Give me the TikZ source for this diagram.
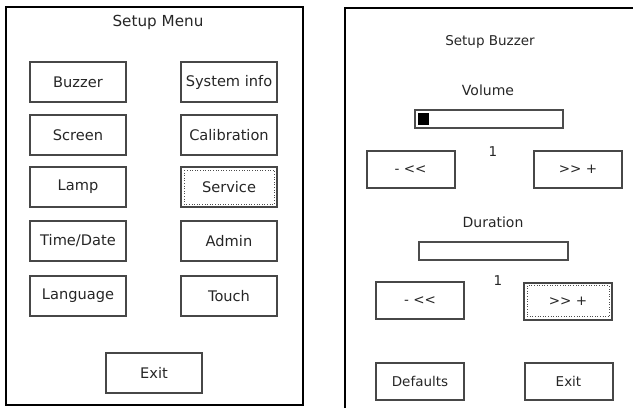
\documentclass[tikz,border=0pt]{standalone}
\usepackage{fontspec}
\setmainfont{DejaVu Sans}
\begin{document}
\begin{tikzpicture}[x=1pt,y=-1pt,
  frame/.style={draw=black, line width=2.6pt},
  btn/.style={draw=black!72, line width=2pt, fill=white, inner sep=0pt, text=black!85},
  bigbtn/.style={btn, minimum width=96pt, minimum height=40pt, font=\fontsize{14.6}{16}\selectfont},
  smallbtn/.style={btn, minimum width=88pt, minimum height=37pt, font=\fontsize{13.5}{15}\selectfont},
  bar/.style={draw=black!70, line width=1.6pt, fill=white},
  label/.style={inner sep=0pt, text=black!85, font=\fontsize{13.5}{15}\selectfont},
  focusline/.style={draw=black!70, line width=0.6pt, dotted}
]
\useasboundingbox (0,0) rectangle (633,408);

% ---- Setup Menu panel ----
\draw[frame] (6,7) rectangle (303,405);
\node[label, font=\fontsize{15.2}{17}\selectfont] (menutitle) at (158,22) {Setup Menu};

\node[bigbtn] (buzzer)   at (78,82)   {Buzzer};
\node[bigbtn] (screen)   at (78,135)  {Screen};
\node[bigbtn] (lamp)     at (78,187)  {Lamp};
\node[bigbtn] (timedate) at (78,241)  {Time/Date};
\node[bigbtn] (language) at (78,296)  {Language};

\node[bigbtn] (sysinfo)  at (229,82)  {System info};
\node[bigbtn] (calib)    at (229,135) {Calibration};
\node[bigbtn] (service)  at (229,187) {Service};
\node[bigbtn] (admin)    at (229,241) {Admin};
\node[bigbtn] (touch)    at (229,296) {Touch};

\node[bigbtn] (exitmenu) at (154,373) {Exit};

% keyboard focus on Service
\draw[focusline] ([shift={(4pt,-4pt)}]service.north west) rectangle ([shift={(-4pt,4pt)}]service.south east);

% ---- Setup Buzzer panel ----
\draw[frame] (345,408) -- (345,8) -- (633,8);
\node[label] (buzztitle) at (490,42) {Setup Buzzer};

% volume
\node[label, font=\fontsize{14}{16}\selectfont] (volume) at (488,90) {Volume};
\draw[bar] (415,110) rectangle (563,128);
\fill[black] (418,113) rectangle (429,125);
\node[label] (volval) at (493,152) {1};
\node[smallbtn] (voldown) at (410.5,169.5) {- <\kern0pt<};
\node[smallbtn] (volup)   at (578,169.5)   {>\kern0pt> +};

% duration
\node[label, font=\fontsize{14}{16}\selectfont] (duration) at (493,222) {Duration};
\draw[bar] (419,242) rectangle (568,260);
\node[label] (durval) at (498,281) {1};
\node[smallbtn] (durdown) at (420,300.5) {- <\kern0pt<};
\node[smallbtn] (durup)   at (568,301)   {>\kern0pt> +};
\draw[focusline] ([shift={(4pt,-4pt)}]durup.north west) rectangle ([shift={(-4pt,4pt)}]durup.south east);

% bottom row
\node[smallbtn] (defaults) at (420,381)   {Defaults};
\node[smallbtn] (exitbuzz) at (568.5,381) {Exit};
\end{tikzpicture}
\end{document}
